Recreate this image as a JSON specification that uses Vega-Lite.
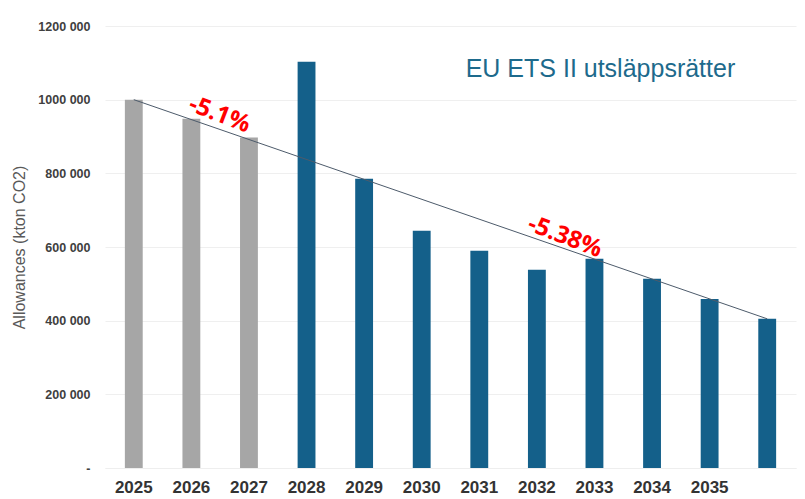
{
  "$schema": "https://vega.github.io/schema/vega-lite/v6.json",
  "autosize": {"type": "none"},
  "width": 691,
  "height": 442,
  "padding": {"left": 105, "top": 26, "right": 9, "bottom": 31},
  "background": "white",
  "config": {"view": {"stroke": null}, "font": "Liberation Sans"},
  "datasets": {
    "bars": [
      {"year": "2025", "value": 1000000, "group": "a"},
      {"year": "2026", "value": 948000, "group": "a"},
      {"year": "2027", "value": 897000, "group": "a"},
      {"year": "2028", "value": 1103000, "group": "b"},
      {"year": "2029", "value": 785000, "group": "b"},
      {"year": "2030", "value": 644000, "group": "b"},
      {"year": "2031", "value": 590000, "group": "b"},
      {"year": "2032", "value": 538000, "group": "b"},
      {"year": "2033", "value": 568000, "group": "b"},
      {"year": "2034", "value": 514000, "group": "b"},
      {"year": "2035", "value": 459000, "group": "b"},
      {"year": "2036", "value": 405000, "group": "b"}
    ],
    "trend": [
      {"year": "2025", "value": 1000000},
      {"year": "2036", "value": 405000}
    ],
    "pct": [
      {"year": "2026", "value": 988000, "label": "-5.1%"},
      {"year": "2032", "value": 656000, "label": "-5.38%"}
    ],
    "title": [
      {"year": "2033", "value": 1062000, "label": "EU ETS II utsläppsrätter"}
    ]
  },
  "encoding": {
    "x": {
      "field": "year", "type": "ordinal",
      "scale": {"domain": ["2025","2026","2027","2028","2029","2030","2031","2032","2033","2034","2035","2036"], "paddingInner": 0.69, "paddingOuter": 0.345},
      "axis": {
        "title": null, "labelAngle": 0, "ticks": false, "domain": true, "domainColor": "#eeeeee",
        "labelFont": "Liberation Sans", "labelFontSize": 17, "labelFontWeight": "bold", "labelColor": "#333333",
        "labelPadding": 11,
        "labelExpr": "datum.value == '2036' ? '' : datum.value"
      }
    },
    "y": {
      "field": "value", "type": "quantitative",
      "scale": {"domain": [0, 1200000], "nice": false},
      "axis": {
        "title": "Allowances (kton CO2)", "titleFont": "Liberation Sans", "titleFontSize": 16, "titleFontWeight": "normal", "titleColor": "#595959", "titlePadding": 10,
        "values": [0, 200000, 400000, 600000, 800000, 1000000, 1200000],
        "labelExpr": "datum.value == 0 ? '-' : floor(datum.value/1000) + ' 000'",
        "labelFont": "Liberation Sans", "labelFontSize": 12.5, "labelFontWeight": "bold", "labelColor": "#404040",
        "labelPadding": 15, "ticks": false, "domain": false,
        "grid": true, "gridColor": "#efefef", "gridWidth": 1
      }
    }
  },
  "layer": [
    {
      "data": {"name": "bars"},
      "mark": {"type": "bar"},
      "encoding": {
        "color": {"field": "group", "type": "nominal", "scale": {"domain": ["a", "b"], "range": ["#a6a6a6", "#14608a"]}, "legend": null}
      }
    },
    {
      "data": {"name": "trend"},
      "mark": {"type": "line", "color": "#4d5b6b", "strokeWidth": 1}
    },
    {
      "data": {"name": "pct"},
      "mark": {"type": "text", "color": "#ff0000", "font": "Open Sans", "fontWeight": "bold", "fontSize": 24, "angle": 21, "align": "center", "baseline": "middle", "dx": 30},
      "encoding": {
        "text": {"field": "label"}
      }
    },
    {
      "data": {"name": "title"},
      "mark": {"type": "text", "color": "#1d6a8c", "font": "Liberation Sans", "fontSize": 25, "align": "center", "baseline": "alphabetic", "dx": 6},
      "encoding": {"text": {"field": "label"}}
    }
  ]
}
